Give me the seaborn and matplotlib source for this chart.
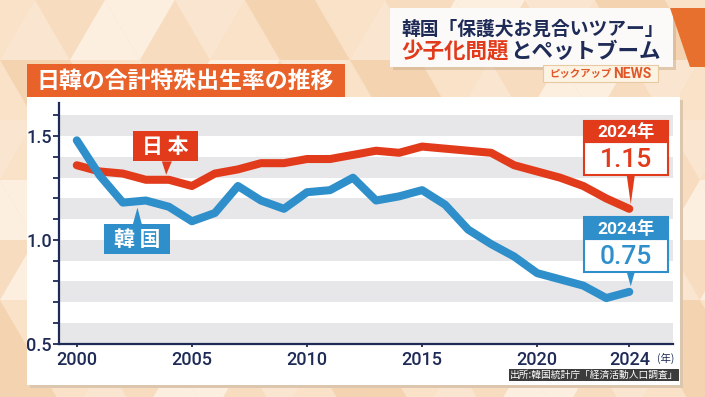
import numpy as np
import pandas as pd
import matplotlib
matplotlib.use("Agg")
import matplotlib.pyplot as plt
import seaborn as sns
from matplotlib.patches import Rectangle, Polygon
from matplotlib.transforms import ScaledTranslation

# ---------------- data ----------------
years = list(range(2000, 2025))
japan = [1.36, 1.33, 1.32, 1.29, 1.29, 1.26, 1.32, 1.34, 1.37, 1.37,
         1.39, 1.39, 1.41, 1.43, 1.42, 1.45, 1.44, 1.43, 1.42, 1.36,
         1.33, 1.30, 1.26, 1.20, 1.15]
korea = [1.48, 1.31, 1.18, 1.19, 1.16, 1.09, 1.13, 1.26, 1.19, 1.15,
         1.23, 1.24, 1.30, 1.19, 1.21, 1.24, 1.17, 1.05, 0.98, 0.92,
         0.84, 0.81, 0.78, 0.72, 0.75]
countries = ["日本", "韓国"]
x_ticks = [2000, 2005, 2010, 2015, 2020, 2024]
y_ticks = [0.5, 1.0, 1.5]

RED = "#e23b1c"
BLUE = "#2f8fca"
NAVY = "#1f2b57"
ORANGE = "#e8622a"

sns.set_theme(style="white")
plt.rcParams["font.family"] = ["Roboto", "Noto Sans CJK JP", "DejaVu Sans"]

W, H = 705, 397
fig = plt.figure(figsize=(W / 100, H / 100), dpi=100)
fig.patch.set_facecolor("#f8dfc4")


def fx(x):
    return x / W


def fy(y):
    return 1 - y / H


# ---------------- background triangles (decoration) ----------------
tw, th = 70, 60
pal = ["#fae6d0", "#f7dcc0", "#f4d3b0", "#fcefe0", "#f9e2c8"]
for j in range(-1, H // th + 2):
    for i in range(-1, W // tw + 3):
        x0 = i * tw + (tw / 2 if j % 2 else 0)
        y0 = j * th
        c1 = pal[(i * 3 + j * 2) % len(pal)]
        c2 = pal[(i * 2 + j * 3 + 1) % len(pal)]
        up = [(fx(x0), fy(y0 + th)), (fx(x0 + tw), fy(y0 + th)), (fx(x0 + tw / 2), fy(y0))]
        dn = [(fx(x0 + tw / 2), fy(y0)), (fx(x0 + tw * 1.5), fy(y0)), (fx(x0 + tw), fy(y0 + th))]
        fig.patches.append(Polygon(up, closed=True, transform=fig.transFigure,
                                   facecolor=c1, edgecolor="none", zorder=-10))
        fig.patches.append(Polygon(dn, closed=True, transform=fig.transFigure,
                                   facecolor=c2, edgecolor="none", zorder=-10))


def fig_rect(x0, y0, x1, y1, **kw):
    fig.patches.append(Rectangle((fx(x0), fy(y1)), fx(x1 - x0), (y1 - y0) / H,
                                 transform=fig.transFigure, **kw))


# white panel with a soft shadow
fig_rect(30, 100, 683, 388, facecolor="#dcc6ad", edgecolor="none", zorder=-5)
fig_rect(27, 97, 680, 385, facecolor="white", edgecolor="none", zorder=-4)

# title box
fig_rect(27, 64, 345, 97, facecolor=ORANGE, edgecolor="none", zorder=-3)
fig.text(fx(36), fy(81), "日韓の合計特殊出生率の推移", color="white", fontsize=16.5,
         fontweight="bold", ha="left", va="center",
         family=["Noto Sans CJK JP"])

# header box
fig_rect(393, 11, 676, 70, facecolor="#c9ab8c", edgecolor="none", zorder=-3, alpha=0.5)
fig_rect(390, 8, 673, 67, facecolor="#fbfaf8", edgecolor="none", zorder=-2)
fig.patches.append(Polygon([(fx(670), fy(8)), (fx(705), fy(8)), (fx(705), fy(67)), (fx(690), fy(67))],
                           closed=True, transform=fig.transFigure,
                           facecolor="#e8702f", edgecolor="none", zorder=-2))
fig.text(fx(401), fy(29), "韓国「保護犬お見合いツアー」", color=NAVY, fontsize=13.5,
         fontweight="bold", ha="left", va="center", family=["Noto Sans CJK JP"])
fig.text(fx(401), fy(52), "少子化問題", color=RED, fontsize=15.5,
         fontweight="bold", ha="left", va="center", family=["Noto Sans CJK JP"])
fig.text(fx(510), fy(52), "とペットブーム", color=NAVY, fontsize=15.5,
         fontweight="bold", ha="left", va="center", family=["Noto Sans CJK JP"])
# badge
fig_rect(543, 65, 658, 82, facecolor="#fdf3e3", edgecolor="#e9c9a0", linewidth=0.8, zorder=-1)
fig.text(fx(549), fy(73.5), "ピックアップ", color="#e0582a", fontsize=7.5, fontweight="bold",
         style="italic", ha="left", va="center", family=["Noto Sans CJK JP"])
fig.text(fx(613), fy(73.5), "NEWS", color="#e0582a", fontsize=10, fontweight="bold",
         ha="left", va="center", family=["Roboto"])

# ---------------- axes ----------------
ax = fig.add_axes([fx(59.3), fy(343.7), (673 - 59.3) / W, (343.7 - 103) / H])
ax.set_facecolor("white")
for lo in np.arange(0.5, 1.6, 0.2):
    ax.axhspan(lo, lo + 0.1, color="#e7e7e9", lw=0, zorder=0)

df = pd.DataFrame({
    "year": years * 2,
    "rate": japan + korea,
    "country": [countries[0]] * len(years) + [countries[1]] * len(years),
})
sns.lineplot(data=df, x="year", y="rate", hue="country", hue_order=countries,
             palette={countries[0]: RED, countries[1]: BLUE}, linewidth=5.8,
             legend=False, ax=ax, solid_capstyle="round", solid_joinstyle="round", zorder=3)

ax.set_xlim(1999.24, 2025.9)
ax.set_ylim(0.5, 1.66)
ax.set_xlabel("")
ax.set_ylabel("")
ax.set_xticks(x_ticks)
ax.set_xticklabels([str(v) for v in x_ticks])
ax.set_yticks(y_ticks)
ax.set_yticklabels([f"{v:.1f}" for v in y_ticks])
ax.set_yticks(np.arange(0.6, 1.61, 0.1), minor=True)
for s in ["top", "right"]:
    ax.spines[s].set_visible(False)
for s in ["left", "bottom"]:
    ax.spines[s].set_color(NAVY)
    ax.spines[s].set_linewidth(1.6)
ax.tick_params(axis="y", which="both", direction="out", length=4.5, width=1.3,
               color=NAVY, labelcolor=NAVY, labelsize=13, pad=1, left=True)
ax.tick_params(axis="x", which="both", direction="out", length=2.5, width=1.3,
               color=NAVY, labelcolor=NAVY, labelsize=13, pad=3, bottom=True)
for lab in ax.get_xticklabels() + ax.get_yticklabels():
    lab.set_family(["Roboto"])
    lab.set_fontweight("medium")

fig.text(fx(657), fy(358), "(年)", color=NAVY, fontsize=7.5, ha="left", va="center",
         family=["Noto Sans CJK JP"])
fig.text(fx(510), fy(375), "出所:韓国統計庁「経済活動人口調査」", color="white", fontsize=7,
         ha="left", va="center", family=["Noto Sans CJK JP"],
         bbox=dict(boxstyle="square,pad=0.1", facecolor="#3c3c3c", edgecolor="none"))


# ---------------- callouts ----------------
def anchor(xv, yv):
    return fig.dpi_scale_trans + ScaledTranslation(xv, yv, ax.transData)


def label_box(xv, yv, l, r, b, t, base, tip, color, text):
    tr = anchor(xv, yv)
    ax.add_patch(Rectangle((l / 100, b / 100), (r - l) / 100, (t - b) / 100, transform=tr,
                           facecolor=color, edgecolor="none", zorder=6, clip_on=False))
    edge = b if tip[1] < b else t
    ax.add_patch(Polygon([(base[0] / 100, edge / 100), (base[1] / 100, edge / 100),
                          (tip[0] / 100, tip[1] / 100)], closed=True, transform=tr,
                         facecolor=color, edgecolor="none", zorder=6, clip_on=False))
    ax.text((l + r) / 200, (b + t) / 200, text, transform=tr, color="white", fontsize=15,
            fontweight="bold", ha="center", va="center", zorder=7,
            family=["Noto Sans CJK JP"])


def value_box(xv, yv, l, r, b, hb, t, base, tip, color, head, value):
    tr = anchor(xv, yv)
    ax.add_patch(Polygon([(base[0] / 100, b / 100), (base[1] / 100, b / 100),
                          (tip[0] / 100, tip[1] / 100)], closed=True, transform=tr,
                         facecolor=color, edgecolor="none", zorder=6, clip_on=False))
    ax.add_patch(Rectangle((l / 100, b / 100), (r - l) / 100, (hb - b) / 100, transform=tr,
                           facecolor="white", edgecolor=color, linewidth=1.5, zorder=6,
                           clip_on=False))
    ax.add_patch(Rectangle((l / 100, hb / 100), (r - l) / 100, (t - hb) / 100, transform=tr,
                           facecolor=color, edgecolor=color, linewidth=1.5, zorder=6,
                           clip_on=False))
    ax.text((l + r) / 200, (hb + t) / 200, head, transform=tr, color="white", fontsize=12.5,
            fontweight="bold", ha="center", va="center", zorder=7,
            family=["Roboto", "Noto Sans CJK JP"])
    ax.text((l + r) / 200, (b + hb) / 200 - 0.01, value, transform=tr, color=color,
            fontsize=19, fontweight="medium", ha="center", va="center", zorder=7,
            family=["Roboto"])


label_box(years[4], japan[4], -35.7, 29.3, 18.4, 48.4, (-7, 3), (-2.7, 5), RED, "日 本")
label_box(years[3], korea[3], -41.7, 24.3, -53.8, -23.8, (-13, -4), (-8.4, -7), BLUE, "韓 国")

value_box(years[-1], japan[-1], -45.7, 38.3, 33.5, 66.5, 87.5, (-2.5, 5.5), (1.5, 4.5), RED,
          f"{years[-1]}年", f"{japan[-1]:.2f}")
value_box(years[-1], korea[-1], -45.7, 38.3, 19.7, 52.7, 74.7, (-2.5, 5.5), (1.5, 5.5), BLUE,
          f"{years[-1]}年", f"{korea[-1]:.2f}")

fig.savefig("out.png", dpi=100, facecolor=fig.get_facecolor())
